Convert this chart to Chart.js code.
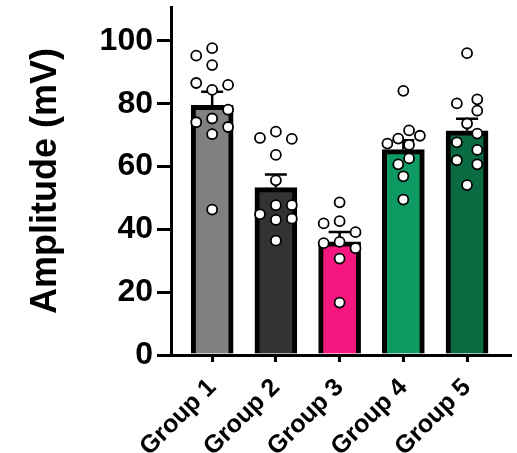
<!DOCTYPE html>
<html>
<head>
<meta charset="utf-8">
<script src="https://cdn.jsdelivr.net/npm/chart.js@4"></script>
<style>
  html, body { margin: 0; padding: 0; background: #fff; }
  #wrap { width: 517px; height: 453px; }
</style>
</head>
<body>
<div id="wrap"><canvas id="mainChart"></canvas></div>
<script>
const groups = ['Group 1', 'Group 2', 'Group 3', 'Group 4', 'Group 5'];
const barColors = ['#808080', '#333333', '#f5177f', '#0e9a63', '#0a6b43'];
const means = [79.5, 53.3, 36.0, 65.4, 71.4];
const sems = [4.3, 4.2, 3.2, 3.0, 3.8];
const yTicks = [0, 20, 40, 60, 80, 100];

// individual points per group, with horizontal jitter (in category units)
const g1Values = [95.3, 97.7, 92.3, 86.6, 86.0, 84.4, 78.1, 74.1, 75.3, 72.6, 70.3, 46.3];
const g1Jitter = [-0.25, 0, 0, -0.25, 0.25, 0, 0.25, -0.25, 0, 0.25, 0, 0];
const g2Values = [69.1, 71.1, 68.8, 63.7, 55.6, 47.7, 47.7, 44.8, 43.0, 43.4, 36.4];
const g2Jitter = [-0.25, 0, 0.25, 0, 0, 0, 0.25, -0.25, 0, 0.25, 0];
const g3Values = [48.6, 41.9, 42.6, 39.1, 35.6, 36.0, 34.0, 30.7, 16.7];
const g3Jitter = [0, -0.25, 0, 0.25, -0.25, 0, 0.25, 0, 0];
const g4Values = [84.1, 71.5, 69.8, 68.9, 67.3, 66.9, 62.6, 60.7, 56.9, 49.5];
const g4Jitter = [0, 0.09, 0.26, -0.08, -0.25, 0.09, 0.09, -0.08, 0, 0];
const g5Values = [96.1, 81.4, 80.1, 77.8, 73.7, 70.5, 67.7, 65.3, 62.0, 60.7, 54.1];
const g5Jitter = [0, 0.16, -0.16, 0.16, 0, 0.16, -0.16, 0.16, -0.16, 0.16, 0];

const allValues = [g1Values, g2Values, g3Values, g4Values, g5Values];
const allJitter = [g1Jitter, g2Jitter, g3Jitter, g4Jitter, g5Jitter];

let points = [];
for (let g = 0; g < allValues.length; g++) {
    for (let i = 0; i < allValues[g].length; i++) {
        points.push({x: g + 1 + allJitter[g][i], y: allValues[g][i]});
    }
}

const errorBars = {
    id: 'errorBars',
    afterDatasetDraw(chart, args) {
        if (args.index !== 1) return;
        const ctx = chart.ctx;
        const xs = chart.scales.x;
        const ys = chart.scales.y;
        ctx.save();
        ctx.strokeStyle = '#000';
        ctx.lineWidth = 2.5;
        for (let i = 0; i < means.length; i++) {
            const x = xs.getPixelForValue(i + 1);
            const y0 = ys.getPixelForValue(means[i]);
            const y1 = ys.getPixelForValue(means[i] + sems[i]);
            ctx.beginPath();
            ctx.moveTo(x, y0);
            ctx.lineTo(x, y1);
            ctx.moveTo(x - 11, y1);
            ctx.lineTo(x + 11, y1);
            ctx.stroke();
        }
        ctx.restore();
    }
};

const ctxMain = document.getElementById('mainChart').getContext('2d');
window.mainChart = new Chart(ctxMain, {
    type: 'bar',
    data: {
        datasets: [{
            type: 'scatter',
            data: points,
            order: 1,
            pointRadius: 5,
            pointBackgroundColor: '#fff',
            pointBorderColor: '#000',
            pointBorderWidth: 1.8,
        }, {
            type: 'bar',
            data: means.map((m, i) => ({x: i + 1, y: m})),
            order: 2,
            backgroundColor: barColors,
            borderColor: '#000',
            borderWidth: 5,
            borderSkipped: 'start',
            barThickness: 42,
        }]
    },
    options: {
        responsive: true,
        maintainAspectRatio: false,
        animation: false,
        layout: {padding: {top: 7, right: 0, left: 0, bottom: 0}},
        plugins: {legend: {display: false}, tooltip: {enabled: false}},
        scales: {
            x: {
                type: 'linear',
                offset: false,
                min: 0.354,
                max: 5.677,
                afterBuildTicks: axis => { axis.ticks = groups.map((_, i) => ({value: i + 1})); },
                afterFit: axis => {
                    axis.height = 98;
                    axis.paddingLeft = 0;
                    axis.paddingRight = 0;
                },
                border: {display: true, color: '#000', width: 3},
                grid: {offset: false, drawOnChartArea: false, color: '#000', lineWidth: 3, tickLength: 7},
                ticks: {
                    minRotation: 45,
                    maxRotation: 45,
                    autoSkip: false,
                    color: '#000',
                    padding: 11,
                    font: {family: 'Liberation Sans', size: 25, weight: 'bold'},
                    callback: v => groups[v - 1]
                }
            },
            y: {
                min: 0,
                max: 110.8,
                afterBuildTicks: axis => { axis.ticks = yTicks.map(v => ({value: v})); },
                afterFit: axis => {
                    axis.width = 171;
                    axis.paddingTop = 0;
                    axis.paddingBottom = 0;
                },
                border: {display: true, color: '#000', width: 3},
                grid: {drawOnChartArea: false, color: '#000', lineWidth: 3, tickLength: 14},
                ticks: {
                    color: '#000',
                    padding: 4,
                    font: {family: 'Liberation Sans', size: 32, weight: 'bold'}
                },
                title: {
                    display: true,
                    text: 'Amplitude (mV)',
                    color: '#000',
                    padding: {top: 24, bottom: 0},
                    font: {family: 'Liberation Sans', size: 36, weight: 'bold'}
                }
            }
        }
    },
    plugins: [errorBars]
});
</script>
</body>
</html>
